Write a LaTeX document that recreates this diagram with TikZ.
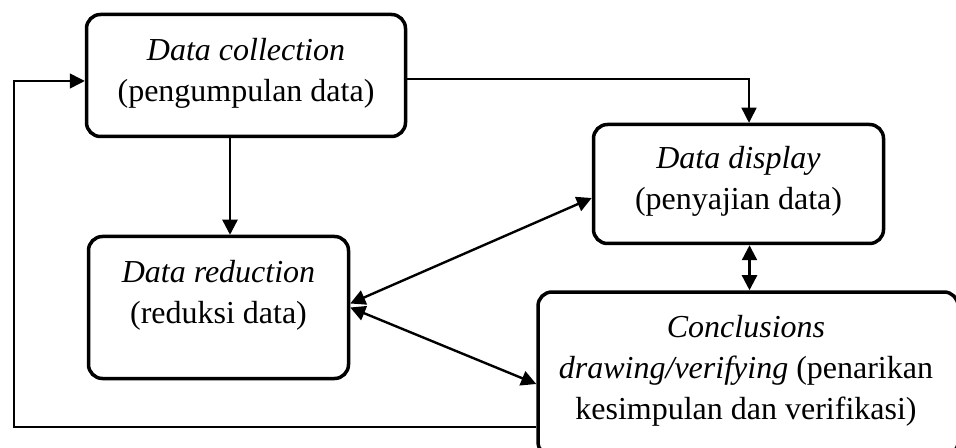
\documentclass[tikz,border=0pt]{standalone}
\usepackage{fontspec}
\setmainfont{Liberation Serif}
\usetikzlibrary{arrows.meta, positioning}

\begin{document}
\begin{tikzpicture}[x=0.5pt, y=-0.5pt,
        procbox/.style={draw, line width=1.75pt, rounded corners=7pt, inner sep=0pt},
        boxlabel/.style={align=center, inner sep=0pt, font=\fontsize{16}{20.5}\selectfont},
        flow/.style={line width=1.2pt, -{Triangle[length=7.5pt,width=7.5pt]}},
        twoway/.style={line width=1.2pt, {Triangle[length=7.5pt,width=7.5pt]}-{Triangle[length=7.5pt,width=7.5pt]}},
        loopline/.style={line width=0.75pt, -{Triangle[length=7.5pt,width=7.5pt]}}]
        \useasboundingbox (0,0) rectangle (956,448);

        % boxes
        \node[procbox, minimum width=159.5pt, minimum height=61pt] (coll) at (246,75.5) {};
        \node[procbox, minimum width=145pt, minimum height=59.5pt] (disp) at (738.5,184) {};
        \node[procbox, minimum width=130pt, minimum height=71pt] (red) at (218.5,307.5) {};
        \node[procbox, minimum width=210pt, minimum height=82pt] (concl) at (748,374) {};

        \node[boxlabel, below=12.5pt of coll.north] (colltext) {\textit{Data collection}\\(pengumpulan data)};
        \node[boxlabel, below=11.5pt of disp.north] (disptext) {\textit{Data display}\\(penyajian data)};
        \node[boxlabel, below=12.5pt of red.north] (redtext) {\textit{Data reduction}\\(reduksi data)};
        \node[boxlabel, below=12.5pt of concl.north, xshift=-1pt] (concltext) {\textit{Conclusions}\\\textit{drawing/verifying} (penarikan\\kesimpulan dan verifikasi)};

        % connectors
        \draw[flow] ([xshift=-8pt]coll.south) -- ([xshift=-8pt]coll.south |- red.north);
        \draw[loopline] ([yshift=-1.75pt]coll.east) -| ([xshift=5.25pt]disp.north);
        \draw[twoway] ([xshift=5.5pt]disp.south) -- ([xshift=5.5pt]disp.south |- concl.north);
        \draw[twoway] ([yshift=-7pt]disp.west) -- ([yshift=2pt]red.east);
        \draw[twoway] (red.east) -- ([yshift=-5pt]concl.west);

        \coordinate (back) at (14,427);
        \draw[loopline] (concl.west |- back) -- (back) |- ([yshift=-2.75pt]coll.west);
    \end{tikzpicture}
\end{document}
